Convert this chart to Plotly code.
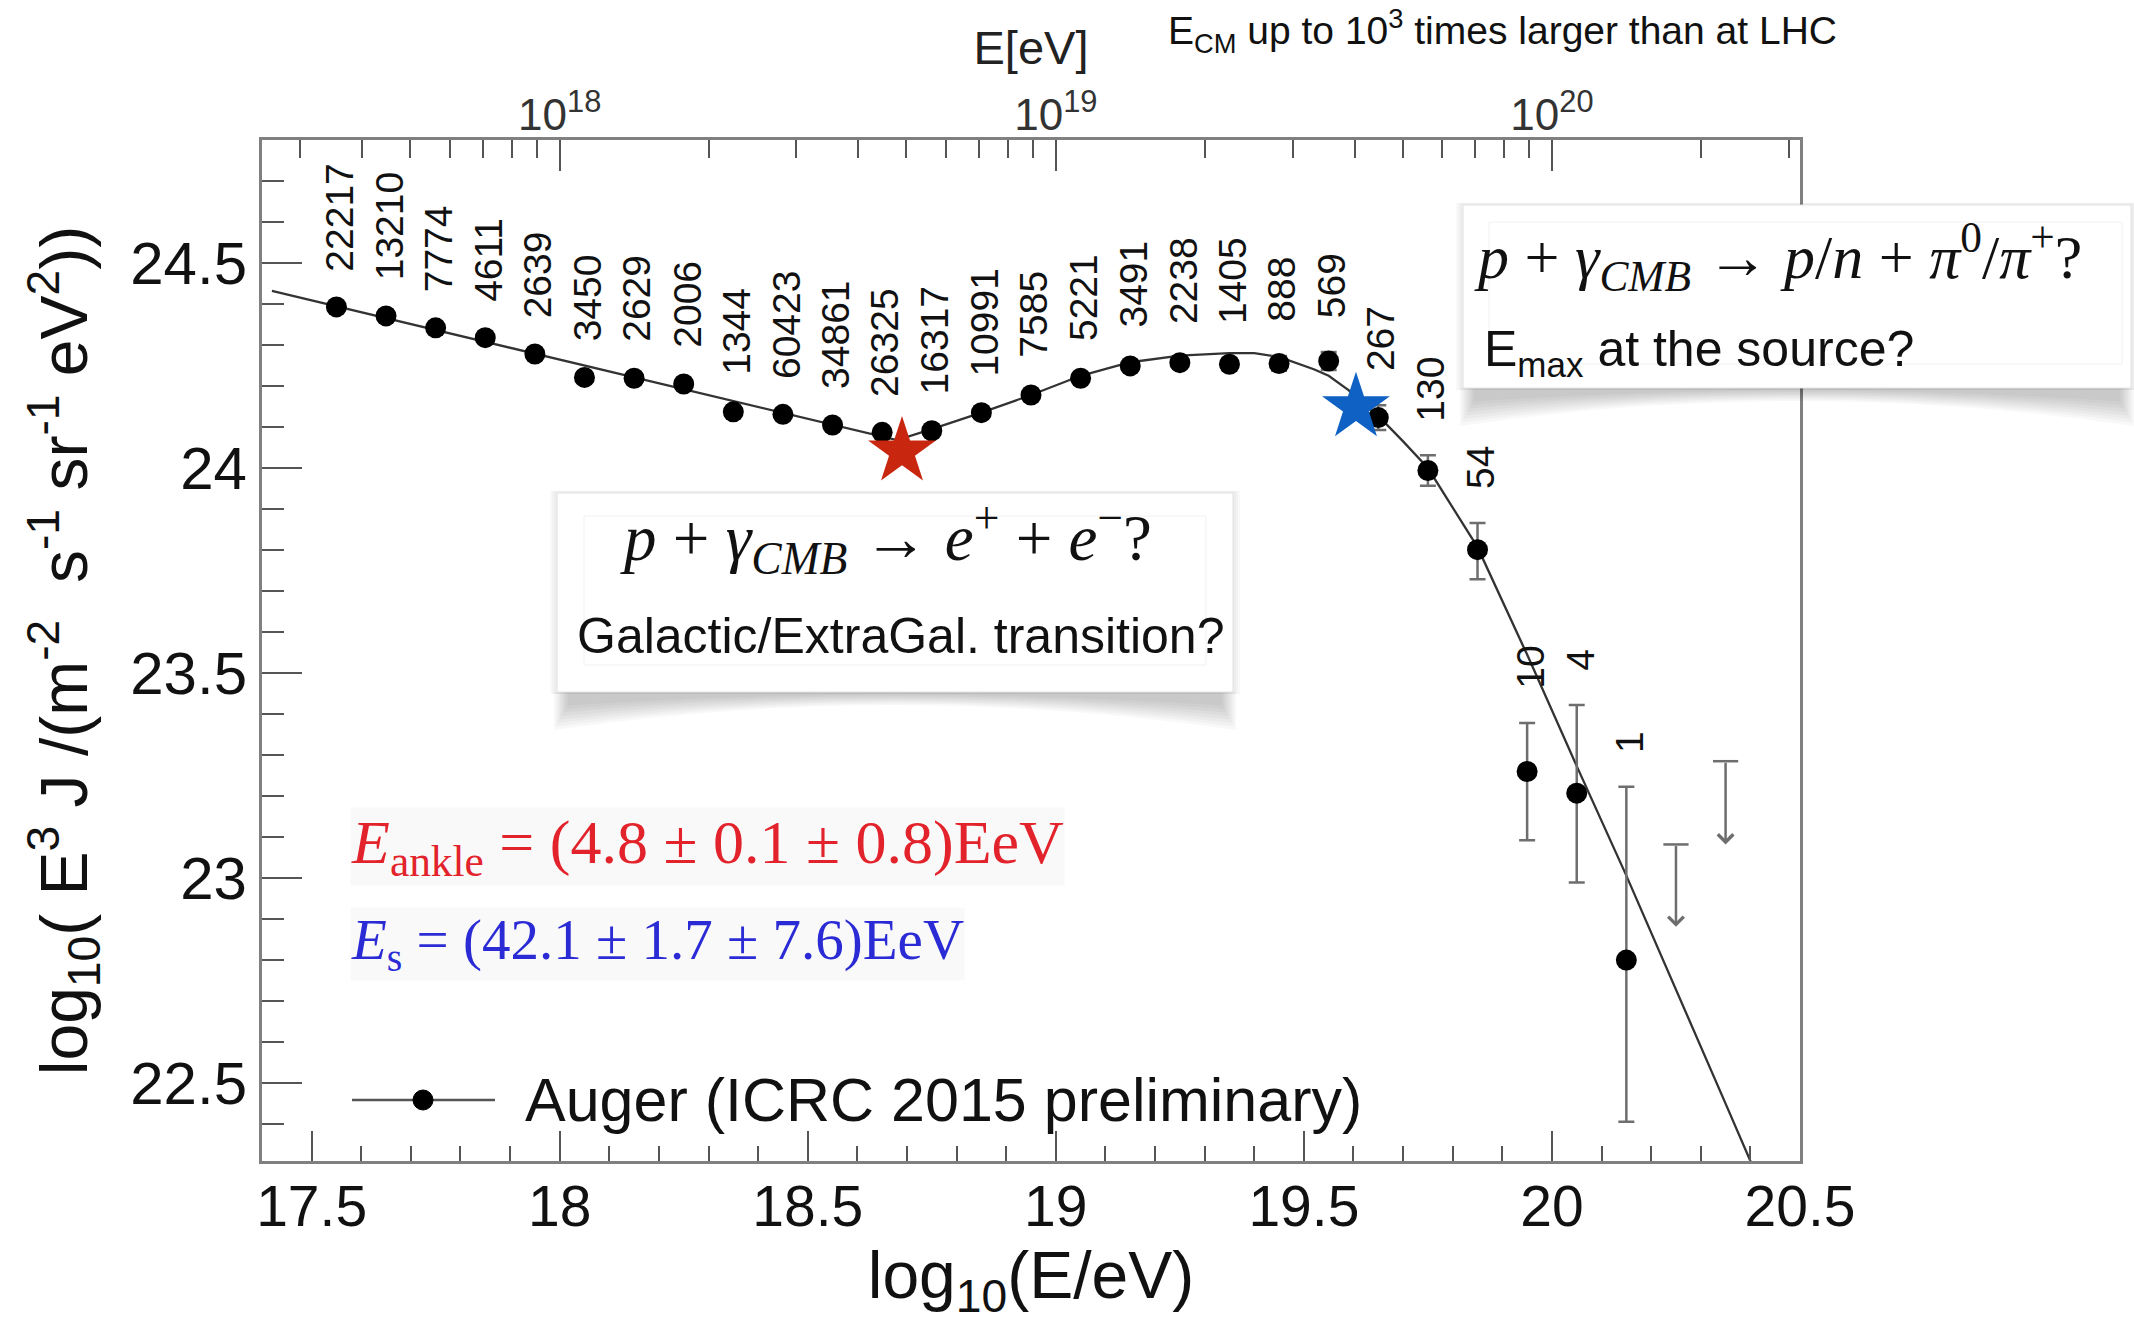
import math
import plotly.graph_objects as go

# ---------------- data ----------------
log_e = [17.55, 17.65, 17.75, 17.85, 17.95, 18.05, 18.15, 18.25, 18.35, 18.45,
         18.55, 18.65, 18.75, 18.85, 18.95, 19.05, 19.15, 19.25, 19.35, 19.45,
         19.55, 19.65, 19.75, 19.85, 19.95, 20.05, 20.15]
flux = [24.393, 24.371, 24.342, 24.318, 24.278, 24.221, 24.219, 24.205, 24.137, 24.131,
        24.105, 24.087, 24.091, 24.135, 24.178, 24.219, 24.249, 24.257, 24.253, 24.255,
        24.261, 24.123, 23.994, 23.801, 23.260, 23.207, 22.800]
err_up = [0.004, 0.004, 0.004, 0.005, 0.005, 0.005, 0.005, 0.006, 0.007, 0.003,
          0.004, 0.004, 0.005, 0.006, 0.007, 0.008, 0.010, 0.012, 0.015, 0.018,
          0.022, 0.030, 0.037, 0.065, 0.118, 0.215, 0.423]
err_dn = [0.004, 0.004, 0.004, 0.005, 0.005, 0.005, 0.005, 0.006, 0.007, 0.003,
          0.004, 0.004, 0.005, 0.006, 0.007, 0.008, 0.010, 0.012, 0.015, 0.018,
          0.022, 0.030, 0.037, 0.072, 0.168, 0.218, 0.394]
counts = ["22217", "13210", "7774", "4611", "2639", "3450", "2629", "2006", "1344", "60423",
          "34861", "26325", "16317", "10991", "7585", "5221", "3491", "2238", "1405", "888",
          "569", "267", "130", "54", "10", "4", "1"]

# upper limits
ul_x = [20.25, 20.35]
ul_top = [23.082, 23.285]
ul_tip = [22.881, 23.082]

# fitted spectrum curve
fit_x = [17.42, 17.80, 18.20, 18.68, 18.75, 18.85, 18.95, 19.05, 19.15, 19.25,
         19.35, 19.40, 19.45, 19.52, 19.55, 19.59, 19.65, 19.70, 19.75, 19.85,
         19.95, 20.05, 20.15, 20.25, 20.35, 20.45]
fit_y = [24.432, 24.322, 24.206, 24.068, 24.095, 24.135, 24.178, 24.225, 24.258, 24.274,
         24.280, 24.280, 24.271, 24.241, 24.225, 24.190, 24.127, 24.065, 24.000, 23.807,
         23.545, 23.273, 23.006, 22.730, 22.450, 22.170]

# characteristic energies (stars)
ankle_x, ankle_y = [18.69], [24.04]
supp_x, supp_y = [19.605], [24.148]

x_tick_vals = [17.5, 18.0, 18.5, 19.0, 19.5, 20.0, 20.5]
x_tick_text = ["17.5", "18", "18.5", "19", "19.5", "20", "20.5"]
y_tick_vals = [22.5, 23.0, 23.5, 24.0, 24.5]
y_tick_text = ["22.5", "23", "23.5", "24", "24.5"]
top_tick_vals = [1e18, 1e19, 1e20]
top_tick_text = ["10<sup>18</sup>", "10<sup>19</sup>", "10<sup>20</sup>"]

# ---------------- geometry ----------------
W, H = 2134, 1331
L, R, T, B = 262, 1800, 140, 1161
SANS = "Liberation Sans, Arial, Helvetica, sans-serif"
SERIF = "Liberation Serif, Times New Roman, serif"


def px(x):
    return (x - L) / (R - L)


def py(y):
    return (B - y) / (B - T)


fig = go.Figure()

# fit curve
fig.add_trace(go.Scatter(
    x=fit_x, y=fit_y, mode="lines",
    line=dict(color="#333333", width=2.3),
    hoverinfo="skip", showlegend=False))

# data points
fig.add_trace(go.Scatter(
    x=log_e, y=flux, mode="markers",
    marker=dict(color="black", size=21),
    error_y=dict(type="data", symmetric=False, array=err_up, arrayminus=err_dn,
                 color="#6e6e6e", thickness=2.5, width=8),
    name="Auger (ICRC 2015 preliminary)", showlegend=False))

# upper-limit caps
fig.add_trace(go.Scatter(
    x=ul_x, y=ul_top, mode="markers",
    marker=dict(symbol="line-ew", size=18, line=dict(color="#6e6e6e", width=2.5)),
    hoverinfo="skip", showlegend=False))

# stars
fig.add_trace(go.Scatter(
    x=ankle_x, y=ankle_y, mode="markers",
    marker=dict(symbol="star", size=51, color="#C8260F", line=dict(width=0)),
    hoverinfo="skip", showlegend=False))
fig.add_trace(go.Scatter(
    x=supp_x, y=supp_y, mode="markers",
    marker=dict(symbol="star", size=51, color="#0F62C4", line=dict(width=0)),
    hoverinfo="skip", showlegend=False))

# dummy trace so the top energy axis is drawn
fig.add_trace(go.Scatter(x=[1e18], y=[None], xaxis="x2", yaxis="y",
                         mode="markers", hoverinfo="skip", showlegend=False))

annotations = []

# event-count labels
for xv, yv, eu, txt in zip(log_e, flux, err_up, counts):
    annotations.append(dict(
        x=xv, y=yv + eu, xref="x", yref="y", text=txt, showarrow=False,
        textangle=-90, xanchor="center", yanchor="bottom", yshift=32, xshift=3,
        font=dict(family=SANS, size=39, color="#111111")))

# upper-limit arrows
for xv, yt, yb in zip(ul_x, ul_top, ul_tip):
    annotations.append(dict(
        x=xv, y=yb, ax=xv, ay=yt, xref="x", yref="y", axref="x", ayref="y",
        text="", showarrow=True, arrowhead=4, arrowsize=1.2, arrowwidth=2.5,
        arrowcolor="#6e6e6e", standoff=0, startstandoff=0))

# red / blue formulas
annotations.append(dict(
    x=px(350), y=py(846), xref="paper", yref="paper", xanchor="left", yanchor="middle",
    text="<i>E</i><sub>ankle</sub> = (4.8 ± 0.1 ± 0.8)EeV", showarrow=False, borderpad=0,
    font=dict(family=SERIF, size=62, color="#E3232B"), bgcolor="#f9f9f9"))
annotations.append(dict(
    x=px(350), y=py(944), xref="paper", yref="paper", xanchor="left", yanchor="middle",
    text="<i>E</i><sub>s</sub> = (42.1 ± 1.7 ± 7.6)EeV", showarrow=False, borderpad=0,
    font=dict(family=SERIF, size=57, color="#2B2BD6"), bgcolor="#f9f9f9"))

# legend (drawn by hand to match the long line glyph)
annotations.append(dict(
    x=px(523), y=py(1100), xref="paper", yref="paper", xanchor="left", yanchor="middle",
    text="Auger (ICRC 2015 preliminary)", showarrow=False,
    font=dict(family=SANS, size=61, color="#111111")))

# box 1 texts
annotations.append(dict(
    x=px(886), y=py(538), xref="paper", yref="paper", xanchor="center", yanchor="middle",
    text="<i>p</i> + <i>γ</i><sub><i>CMB</i></sub> → <i>e</i><sup>+</sup> + <i>e</i><sup>−</sup>?",
    showarrow=False, font=dict(family=SERIF, size=65, color="#111111")))
annotations.append(dict(
    x=px(901), y=py(636), xref="paper", yref="paper", xanchor="center", yanchor="middle",
    text="Galactic/ExtraGal. transition?", showarrow=False,
    font=dict(family=SANS, size=50, color="#111111")))

# box 2 texts
annotations.append(dict(
    x=px(1472), y=py(256), xref="paper", yref="paper", xanchor="left", yanchor="middle",
    text="<i>p</i> + <i>γ</i><sub><i>CMB</i></sub> → <i>p</i>/<i>n</i> + <i>π</i><sup>0</sup>/<i>π</i><sup>+</sup>?",
    showarrow=False, font=dict(family=SERIF, size=62, color="#111111")))
annotations.append(dict(
    x=px(1482), y=py(352), xref="paper", yref="paper", xanchor="left", yanchor="middle",
    text="E<sub>max</sub> at the source?", showarrow=False,
    font=dict(family=SANS, size=50, color="#111111")))

# top-right note
annotations.append(dict(
    x=px(1166), y=py(31), xref="paper", yref="paper", xanchor="left", yanchor="middle",
    text="E<sub>CM</sub> up to 10<sup>3</sup> times larger than at LHC", showarrow=False,
    font=dict(family=SANS, size=39, color="#111111")))

shapes = []


def rect(x0, y0, x1, y1, fill, line_color=None, lw=0):
    return dict(type="rect", xref="paper", yref="paper", layer="above",
                x0=px(x0), x1=px(x1), y0=py(y1), y1=py(y0),
                fillcolor=fill,
                line=dict(color=line_color or "rgba(0,0,0,0)", width=lw))


def curved_shadow(x0, x1, yb, d_edge, d_mid, alpha):
    xm = 0.5 * (x0 + x1)
    dc = 2 * d_mid - d_edge
    path = (f"M {px(x0)},{py(yb)} L {px(x1)},{py(yb)} L {px(x1)},{py(yb + d_edge)} "
            f"Q {px(xm)},{py(yb + dc)} {px(x0)},{py(yb + d_edge)} Z")
    return dict(type="path", xref="paper", yref="paper", layer="above", path=path,
                fillcolor=f"rgba(0,0,0,{alpha})", line=dict(width=0))


for (bx0, by0, bx1, by1, ix0, iy0, ix1, iy1) in [
        (557, 493, 1233, 692, 584, 516, 1206, 665),
        (1463, 205, 2131, 388, 1489, 222, 2122, 364)]:
    # soft, curved drop shadow built from several faint layers
    for k in range(8):
        inset = 2 * k
        shapes.append(curved_shadow(bx0 - 3 + inset, bx1 + 3 - inset, by1,
                                    38 - 3.5 * k, 13 - 1.5 * k, 0.028))
    for k in range(3):
        shapes.append(rect(bx0 - 7 + 2 * k, by0 - 2, bx1 + 7 - 2 * k, by1 + 2,
                           "rgba(0,0,0,0.025)"))
    shapes.append(rect(bx0, by0, bx1, by1, "white", "#e2e2e2", 1))
    shapes.append(rect(ix0, iy0, ix1, iy1, "rgba(0,0,0,0)", "#f1f1f1", 1))

# legend glyph
shapes.append(dict(type="line", xref="paper", yref="paper", layer="above",
                   x0=px(352), x1=px(495), y0=py(1100), y1=py(1100),
                   line=dict(color="#555555", width=2.5)))
shapes.append(dict(type="circle", xref="paper", yref="paper", layer="above",
                   x0=px(413), x1=px(433), y0=py(1110), y1=py(1090),
                   fillcolor="black", line=dict(color="black", width=1)))

minor_top = [float(k) * 10.0 ** e for e in (17, 18, 19, 20) for k in range(2, 10)
             if 17.4 <= math.log10(float(k) * 10.0 ** e) <= 20.5]

fig.update_layout(
    width=W, height=H,
    margin=dict(l=L, r=W - R, t=T, b=H - B),
    paper_bgcolor="white", plot_bgcolor="white",
    showlegend=False,
    font=dict(family=SANS, color="#111111"),
    xaxis=dict(
        range=[17.4, 20.5], tickmode="array", tickvals=x_tick_vals, ticktext=x_tick_text,
        ticks="inside", ticklen=30, tickwidth=2, tickcolor="#555555",
        minor=dict(dtick=0.1, tick0=0, ticks="inside", ticklen=15, tickwidth=2, tickcolor="#555555"),
        showline=True, linecolor="#808080", linewidth=3, mirror=True,
        showgrid=False, zeroline=False,
        tickfont=dict(family=SANS, size=57, color="#111111"),
        ticklabelstandoff=-6,
        title=dict(text="log<sub>10</sub>(E/eV)", font=dict(family=SANS, size=66, color="#111111"),
                   standoff=6)),
    xaxis2=dict(
        type="log", range=[17.4, 20.5], overlaying="x", side="top", anchor="y",
        tickmode="array", tickvals=top_tick_vals, ticktext=top_tick_text,
        ticks="inside", ticklen=31, tickwidth=2, tickcolor="#555555",
        minor=dict(tickmode="array", tickvals=minor_top, ticks="inside", ticklen=18,
                   tickwidth=2, tickcolor="#555555"),
        showline=False, showgrid=False, zeroline=False,
        tickfont=dict(family=SANS, size=44, color="#333333"),
        title=dict(text="E[eV]", font=dict(family=SANS, size=47, color="#222222"), standoff=4)),
    yaxis=dict(
        range=[22.31, 24.8], tickmode="array", tickvals=y_tick_vals, ticktext=y_tick_text,
        ticks="inside", ticklen=40, tickwidth=2, tickcolor="#555555",
        minor=dict(dtick=0.1, tick0=0, ticks="inside", ticklen=22, tickwidth=2, tickcolor="#555555"),
        showline=True, linecolor="#808080", linewidth=3, mirror=True,
        showgrid=False, zeroline=False,
        tickfont=dict(family=SANS, size=60, color="#111111"),
        ticklabelstandoff=0,
        title=dict(text="log<sub>10</sub>( E<sup>3</sup> J /(m<sup>-2</sup>  s<sup>-1</sup> sr<sup>-1</sup> eV<sup>2</sup>))",
                   font=dict(family=SANS, size=66, color="#111111"), standoff=22)),
    annotations=annotations,
    shapes=shapes,
)

fig.write_html("out.html")
